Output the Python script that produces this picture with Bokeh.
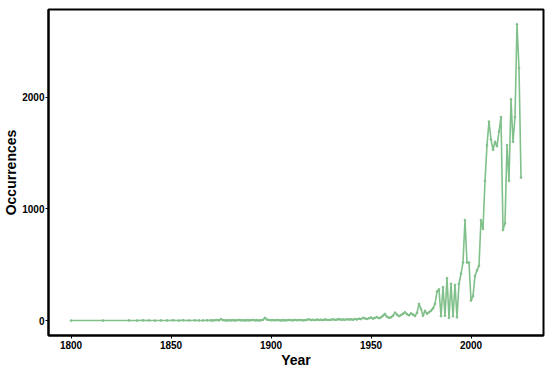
from bokeh.plotting import figure
from bokeh.models import Range1d, FixedTicker
from bokeh.embed import file_html
from bokeh.resources import INLINE

early_years = [1800, 1816, 1829, 1833, 1836, 1839, 1842, 1845, 1848, 1851, 1854, 1856, 1859, 1862, 1864, 1866, 1868]
early_counts = [1, 1, 2, 1, 3, 2, 1, 2, 2, 3, 1, 4, 2, 3, 2, 2, 3]

annual_start = 1870
annual_counts = [
    3, 2, 4, 5, 3, 14, 5, 3, 2, 4,            # 1870s
    3, 5, 2, 4, 6, 3, 4, 2, 5, 3,             # 1880s
    4, 6, 3, 5, 2, 4, 8, 25, 10, 6,           # 1890s
    4, 5, 3, 6, 4, 2, 5, 3, 4, 6,             # 1900s
    5, 3, 7, 4, 6, 5, 3, 4, 8, 12,            # 1910s
    6, 8, 5, 10, 7, 9, 6, 11, 8, 7,           # 1920s
    9, 12, 8, 10, 14, 9, 11, 8, 13, 10,       # 1930s
    12, 9, 15, 11, 18, 14, 25, 20, 16, 22,    # 1940s
    28, 18, 25, 32, 22, 30, 45, 60, 35, 25,   # 1950s
    30, 45, 72, 55, 40, 50, 62, 75, 58, 48,   # 1960s
    65, 55, 42, 70, 150, 105, 45, 88, 62, 75, # 1970s
    90, 110, 150, 260, 280, 40, 300, 45, 380, 25,      # 1980s
    330, 40, 320, 30, 330, 420, 520, 900, 520, 520,    # 1990s
    180, 220, 400, 450, 490, 900, 820, 1250, 1570, 1780,  # 2000s
    1620, 1527, 1600, 1560, 1690, 1820, 810, 870, 1570, 1250,  # 2010s
    1980, 1600, 1820, 2650, 2260, 1280,       # 2020s
]
annual_years = [annual_start + i for i in range(len(annual_counts))]

years = early_years + annual_years
counts = early_counts + annual_counts

x_ticks = [1800, 1850, 1900, 1950, 2000]
y_ticks = [0, 1000, 2000]

green = "#80c08a"

p = figure(width=550, height=370, output_backend="svg", toolbar_location=None,
           x_range=Range1d(1788.75, 2036.25), y_range=Range1d(-132.5, 2782.5),
           min_border_left=10, min_border_right=7, min_border_top=9, min_border_bottom=5)

p.line(years, counts, line_color=green, line_width=1.6)
p.scatter(years, counts, size=1.8, fill_color=green, line_color=green)

p.xgrid.visible = False
p.ygrid.visible = False
p.background_fill_color = "white"
p.border_fill_color = "white"
p.outline_line_color = "black"
p.outline_line_width = 2

for ax, ticks, lab in ((p.xaxis, x_ticks, "Year"), (p.yaxis, y_ticks, "Occurrences")):
    ax.ticker = FixedTicker(ticks=ticks)
    ax.axis_label = lab
    ax.axis_label_text_font = "Liberation Sans"
    ax.axis_label_text_font_style = "bold"
    ax.axis_label_text_font_size = "14px"
    ax.axis_label_text_color = "black"
    ax.major_label_text_font = "Liberation Sans"
    ax.major_label_text_font_style = "bold"
    ax.major_label_text_font_size = "10px"
    ax.major_label_text_color = "black"
    ax.axis_line_color = "black"
    ax.axis_line_width = 2
    ax.major_tick_line_color = "black"
    ax.major_tick_line_width = 1
    ax.major_tick_out = 3
    ax.major_tick_in = 0
    ax.minor_tick_line_color = None
    ax.major_label_standoff = 2
    ax.axis_label_standoff = 0

p.yaxis.major_label_standoff = 1

open("out.html", "w").write(file_html(p, INLINE))
